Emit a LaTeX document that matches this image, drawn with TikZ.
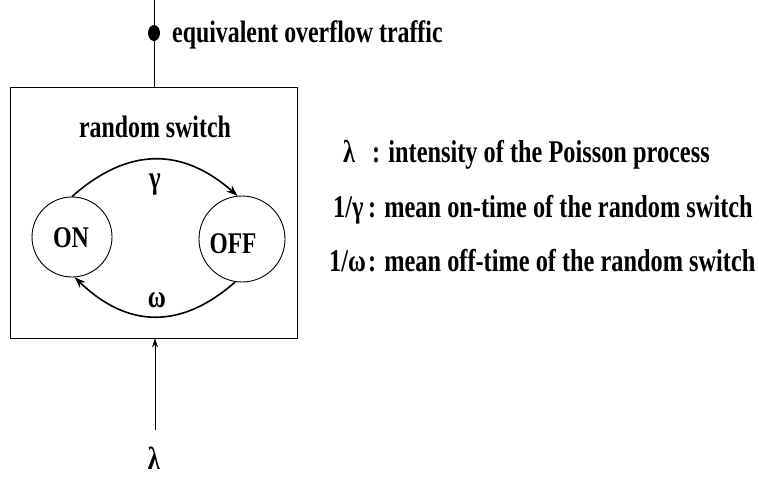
\documentclass[tikz,border=0pt]{standalone}
\usepackage{fontspec}
\usepackage{graphicx}
\setmainfont{Liberation Serif}
\usetikzlibrary{arrows.meta,shapes.geometric}
\newcommand{\cnd}[1]{\scalebox{0.77}[1]{#1}}
\begin{document}
\begin{tikzpicture}[x=1pt,y=-1pt,
  lbl/.style={font=\bfseries\fontsize{31}{33}\selectfont, inner sep=0pt},
  rlbl/.style={font=\bfseries\fontsize{31.6}{34}\selectfont, inner sep=0pt},
  grk/.style={font=\bfseries\fontsize{32}{34}\selectfont, inner sep=0pt},
  state/.style={draw, circle, line width=0.9pt, minimum size=80pt, inner sep=0pt},
  stxt/.style={font=\bfseries\fontsize{30}{32}\selectfont, inner sep=0pt},
  conn/.style={line width=0.7pt},
  arr/.style={line width=1.6pt, -{Stealth[length=11pt,width=8pt]}}
]
\useasboundingbox (0,0) rectangle (759,477);
\node[draw, line width=0.9pt, minimum width=287pt, minimum height=251pt, inner sep=0pt] (box) at (153.5,212.5) {};
\coordinate (top) at (154,0);
\draw[conn] (top) -- (box.north -| top);
\node[ellipse, fill=black, minimum width=12pt, minimum height=16pt, inner sep=0pt] (dot) at (154,33) {};
\node[lbl, anchor=base west] (eot) at (172,42) {\cnd{equivalent overflow traffic}};
\node[lbl, anchor=base] (rs) at (155,137) {\cnd{random switch}};
\node[state] (on) at (72,237) {};
\node[state, minimum size=86pt] (off) at (242,239) {};
\node[stxt, anchor=base] (ontxt) at (71,247) {\scalebox{0.8}[1]{ON}};
\node[stxt, anchor=base] (offtxt) at (233,253) {\scalebox{0.78}[1]{OFF}};
\draw[arr] (on.90) .. controls (128,147) and (182,147) .. (off.96);
\draw[arr] (off.-99) .. controls (182,329) and (128,329) .. (on.-86);
\node[grk] (g) at (155,185) {\cnd{γ}};
\node[grk] (w) at (157,300) {\cnd{ω}};
\coordinate (lin) at (155,430);
\draw[conn, -{Stealth[length=9pt,width=6pt]}] (lin) -- (lin |- box.south);
\node[grk] (lam) at (154,458) {\cnd{λ}};
\node[rlbl, anchor=base west] (k1) at (343,162) {\cnd{λ}};
\node[rlbl, anchor=base west] (v1) at (372,162) {\cnd{: intensity of the Poisson process}};
\node[rlbl, anchor=base west] (k2) at (333,217) {\cnd{1/γ}};
\node[rlbl, anchor=base west] (v2) at (368,217) {\cnd{: mean on-time of the random switch}};
\node[rlbl, anchor=base west] (k3) at (329,271) {\cnd{1/ω}};
\node[rlbl, anchor=base west] (v3) at (368,271) {\cnd{: mean off-time of the random switch}};
\end{tikzpicture}
\end{document}
